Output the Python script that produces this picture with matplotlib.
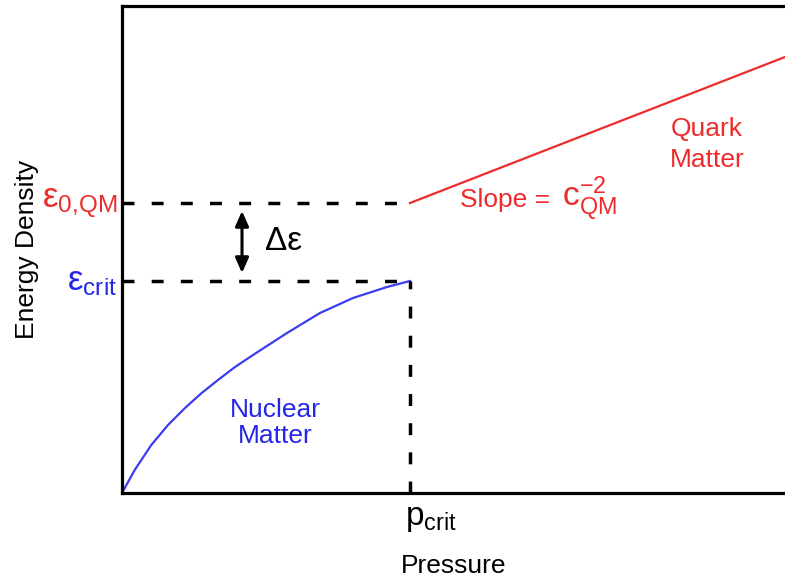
import numpy as np
import matplotlib.pyplot as plt

plt.rcParams['font.family'] = ['Liberation Sans', 'DejaVu Sans']
plt.rcParams['mathtext.fontset'] = 'custom'
plt.rcParams['mathtext.rm'] = 'Liberation Sans'

# Nuclear matter branch (pressure, energy density), arbitrary units
p_nuclear = [0.0, 0.127, 0.293, 0.46, 0.627, 0.793, 0.96, 1.13, 1.31,
             1.48, 1.65, 1.98, 2.31, 2.65, 2.88]
e_nuclear = [0.0, 0.23, 0.48, 0.68, 0.847, 0.997, 1.13, 1.26, 1.38,
             1.49, 1.60, 1.80, 1.95, 2.06, 2.12]

# Quark matter branch: straight line starting at (p_crit, eps_0QM)
p_quark = [2.88, 6.63]
e_quark = [2.90, 4.36]

p_crit = 2.88
eps_crit = 2.12
eps_0qm = 2.90

x_max = 6.63
y_max = 4.87

red = '#ee2b2b'
blue = '#3c3cf0'
blue_txt = '#2626e8'

fig = plt.figure(figsize=(7.85, 5.83), dpi=100)
ax = fig.add_axes([122 / 785, 90 / 583, 663 / 785, 487 / 583])
ax.set_xlim(0, x_max)
ax.set_ylim(0, y_max)

for side in ['left', 'bottom', 'top']:
    ax.spines[side].set_linewidth(2.3)
ax.spines['right'].set_visible(False)
ax.set_xticks([])
ax.set_yticks([])

# curves
ax.plot(p_nuclear, e_nuclear, color=blue, lw=1.6, solid_joinstyle='round')
ax.plot(p_quark, e_quark, color=red, lw=1.6)

# dashed guides
dlw = 2.5
dash = (0, (8.6 / dlw, 12.4 / dlw))
ax.plot([0, p_crit], [eps_0qm, eps_0qm], color='black', lw=dlw, linestyle=dash, clip_on=False)
ax.plot([0, p_crit], [eps_crit, eps_crit], color='black', lw=dlw, linestyle=dash, clip_on=False)
ax.plot([p_crit, p_crit], [0, eps_crit], color='black', lw=dlw, linestyle=dash, clip_on=False)

# delta epsilon arrow
ax.annotate('', xy=(1.20, eps_crit + 0.08), xytext=(1.20, eps_0qm - 0.08),
            arrowprops=dict(arrowstyle='<|-|>,head_length=0.9,head_width=0.4',
                            color='black', lw=2.2, shrinkA=0, shrinkB=0))
ax.text(1.43, (eps_crit + eps_0qm) / 2, 'Δε', fontsize=24, ha='left', va='center')

# axis-side labels
ax.text(-0.05, eps_0qm, r'$\mathregular{ε_{0{,}QM}}$', color=red, fontsize=25,
        ha='right', va='center', clip_on=False)
ax.text(-0.05, eps_crit, r'$\mathregular{ε_{crit}}$', color=blue_txt, fontsize=25,
        ha='right', va='center', clip_on=False)
ax.text(p_crit - 0.05, -0.25, r'$\mathregular{p_{crit}}$', fontsize=24,
        ha='left', va='center', clip_on=False)

# branch labels
ax.text(1.53, 0.70, 'Nuclear\nMatter', color=blue_txt, fontsize=19,
        ha='center', va='center', linespacing=1.1)
ax.text(5.85, 3.485, 'Quark\nMatter', color=red, fontsize=19,
        ha='center', va='center', linespacing=1.35)
ax.text(3.38, 2.86, 'Slope =', color=red, fontsize=19, ha='left', va='baseline')
ax.text(4.40, 2.86, r'$\mathregular{c^{-2}_{QM}}$', color=red, fontsize=24,
        ha='left', va='baseline')

ax.set_xlabel('Pressure', fontsize=19, va='top')
ax.xaxis.set_label_coords(0.5, -0.125)
ax.set_ylabel('Energy Density', fontsize=19)
ax.yaxis.set_label_coords(-0.125, 0.5)

fig.savefig('out.png', dpi=100)
